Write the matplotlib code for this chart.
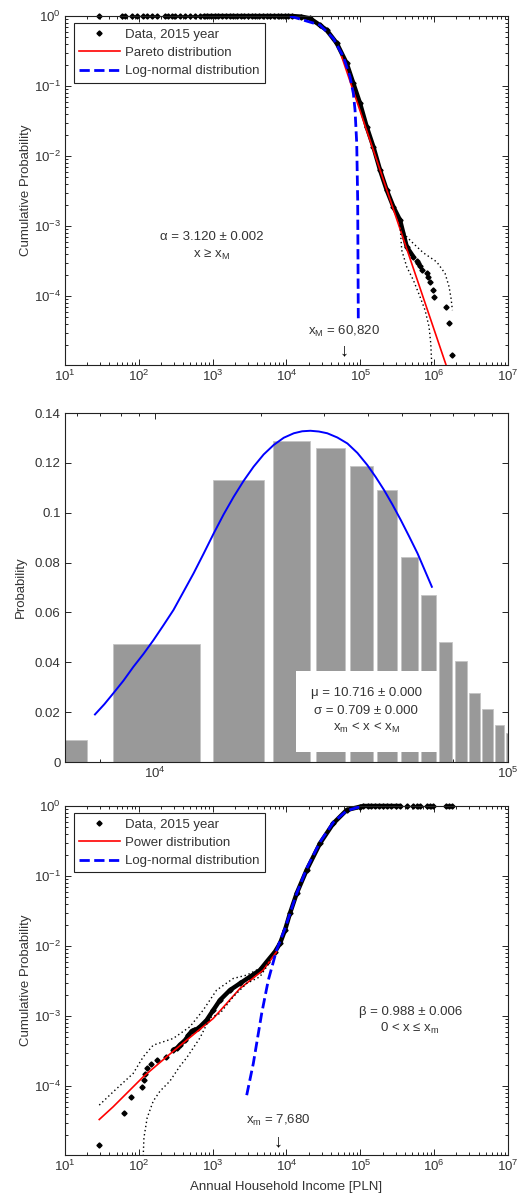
import matplotlib
matplotlib.use("Agg")
import matplotlib.pyplot as plt
import numpy as np
from matplotlib.patches import Rectangle
from matplotlib.ticker import LogLocator, NullFormatter, MultipleLocator, FormatStrFormatter, FixedLocator

plt.rcParams["font.family"] = ["Liberation Sans", "DejaVu Sans"]
plt.rcParams["mathtext.default"] = "regular"
plt.rcParams["font.size"] = 9.5

TXT = "#333333"

# ---------------- top panel: upper tail (1 - CDF) ----------------
top_flat_x = [29, 60, 66, 80, 95, 115, 129, 149, 175, 226, 250, 279, 309, 361, 422,
              493, 577, 674, 760, 850, 960, 1080, 1200, 1350, 1500, 1700, 1900, 2150,
              2400, 2700, 3000, 3400, 3800, 4300, 4800, 5400, 6000, 6800, 7600, 8500,
              9500, 10600, 12000]
top_tail_x = [15800, 20800, 28400, 35000, 47900, 65300, 80400, 99100, 121900, 150000,
              184900, 227500, 279900, 344400, 424600, 522400, 579400, 611000, 642700,
              677500, 792500, 833700, 879000, 975000, 1007000, 1436000, 1574000, 1746000]
top_tail_y = [0.98, 0.927, 0.74, 0.63, 0.41, 0.211, 0.109, 0.0565, 0.0262, 0.0136,
              0.0063, 0.00327, 0.00189, 0.00122, 5.07e-4, 3.65e-4, 3.16e-4, 2.93e-4, 2.69e-4,
              2.40e-4, 2.11e-4, 1.89e-4, 1.60e-4, 1.24e-4, 9.6e-5, 6.9e-5, 4.2e-5, 1.44e-5]

pareto_x = [56000, 1.6e6]
pareto_y = [0.262, 7.6e-6]

top_logn_x = [11150, 28440, 43050, 58900, 72400, 80400, 84700, 89300, 92000, 93800]
top_logn_y = [1.0, 0.743, 0.48, 0.262, 0.136, 0.0785, 0.0454, 0.0152, 0.00235, 4.54e-5]

top_ci_hi_x = [344400, 424600, 522400, 712900, 1081000, 1403000, 1589000, 1690000, 1762000]
top_ci_hi_y = [1.03e-3, 7.03e-4, 5.65e-4, 4.16e-4, 3.09e-4, 2.11e-4, 1.36e-4, 9.27e-5, 6.31e-5]
top_ci_lo_x = [344400, 363100, 424600, 522400, 642700, 751600, 851100, 897500, 924700]
top_ci_lo_y = [1.03e-3, 4.54e-4, 2.62e-4, 1.69e-4, 9.77e-5, 6.31e-5, 3.65e-5, 2.11e-5, 1.09e-5]

x_M = 60820

# ---------------- middle panel: histogram + log-normal fit ----------------
bin_centers = [3500, 10500, 17500, 24500, 31500, 38500, 45500, 52500, 59500, 66500,
               73500, 80500, 87500, 94500, 101500]
bin_probs = [0.0088, 0.0472, 0.1131, 0.1288, 0.1258, 0.1189, 0.1091, 0.0821, 0.0669,
             0.0480, 0.0406, 0.0276, 0.0214, 0.0148, 0.0118]

fit_x = [6754, 7180, 7614, 8128, 8677, 9270, 9890, 10560, 11270, 12030, 12850, 13720,
         14650, 15640, 16690, 17810, 19010, 20300, 21670, 23140, 24710, 26100, 27540,
         29100, 30740, 32830, 35060, 37420, 39940, 42180, 44530, 47020, 49650, 52440,
         55390, 58040, 60820]
fit_y = [0.0191, 0.0232, 0.0276, 0.0326, 0.0382, 0.0434, 0.0489, 0.0549, 0.0610, 0.0683,
         0.0757, 0.0836, 0.0917, 0.0994, 0.1064, 0.1128, 0.1185, 0.1234, 0.1272, 0.1301,
         0.1319, 0.1327, 0.1329, 0.1326, 0.1319, 0.1302, 0.1278, 0.1240, 0.1191, 0.1143,
         0.1091, 0.1033, 0.0971, 0.0905, 0.0837, 0.0770, 0.0703]

# ---------------- bottom panel: lower tail (CDF) ----------------
bot_curve_x = [29.2, 63, 78, 111, 119, 123, 130, 145, 175, 233, 293, 330, 361, 422, 470,
               520, 560, 640, 830, 1021, 1256, 1718, 2344, 3206, 4375, 5395, 6982, 8166,
               9550, 11140, 13740, 18750, 28440, 43050, 65310, 99100]
bot_curve_y = [1.45e-5, 4.07e-5, 6.9e-5, 9.6e-5, 1.23e-4, 1.51e-4, 1.79e-4, 2.04e-4,
               2.35e-4, 2.6e-4, 3.3e-4, 3.5e-4, 3.9e-4, 4.5e-4, 5.3e-4, 6.1e-4, 6.3e-4,
               6.67e-4, 8.77e-4, 1.22e-3, 1.69e-3, 2.35e-3, 2.93e-3, 3.65e-3, 4.54e-3,
               5.97e-3, 8.30e-3, 0.0109, 0.0169, 0.0293, 0.0565, 0.122, 0.293, 0.565,
               0.877, 0.977]
bot_flat_x = [110000, 125000, 140000, 160000, 180000, 205000, 230000, 260000, 300000,
              344000, 424600, 522400, 579400, 642700, 792500, 879000, 975000, 1436000,
              1574000, 1746000]

power_x = [29.2, 45, 115, 238, 445, 1021, 2344, 4853, 7350]
power_y = [3.34e-5, 5.07e-5, 1.36e-4, 2.62e-4, 4.54e-4, 9.27e-4, 2.48e-3, 4.54e-3, 8.3e-3]

bot_logn_x = [2893, 3556, 4613, 5675, 7345, 9550, 13740, 18750, 28440, 43050, 65310, 99100]
bot_logn_y = [7.43e-5, 2.11e-4, 1.09e-3, 3.27e-3, 8.77e-3, 0.0179, 0.0565, 0.128, 0.306,
              0.585, 0.857, 0.977]

bot_ci_hi_x = [29.2, 45.1, 84.1, 115, 157, 293, 493, 746, 1132, 1905, 2891, 4853, 6000]
bot_ci_hi_y = [5.36e-5, 8.3e-5, 1.52e-4, 2.62e-4, 3.85e-4, 4.8e-4, 7.05e-4, 1.22e-3,
               2.35e-3, 3.45e-3, 3.85e-3, 5.07e-3, 6.3e-3]
bot_ci_lo_x = [115, 117.5, 130, 157, 194, 264, 361, 445, 675, 920, 1256, 1905, 2891, 4375, 6000]
bot_ci_lo_y = [1.0e-5, 1.83e-5, 3.53e-5, 6.11e-5, 8.49e-5, 1.18e-4, 1.93e-4, 2.54e-4,
               4.9e-4, 9.46e-4, 1.09e-3, 1.89e-3, 2.93e-3, 3.65e-3, 6.0e-3]

x_m = 7680

log_xticks = [1e1, 1e2, 1e3, 1e4, 1e5, 1e6, 1e7]
log_yticks = [1e-4, 1e-3, 1e-2, 1e-1, 1e0]


def style_axes(ax):
    for s in ax.spines.values():
        s.set_linewidth(0.8)
        s.set_color("#222222")
    ax.tick_params(which="both", direction="in", top=True, right=True,
                   width=0.6, labelcolor=TXT, pad=3)
    ax.tick_params(which="major", length=4)
    ax.tick_params(which="minor", length=2.4)


def style_loglog(ax):
    ax.set_xscale("log")
    ax.set_yscale("log")
    ax.set_xlim(10, 1e7)
    ax.set_ylim(1.04e-5, 1.0)
    ax.xaxis.set_major_locator(FixedLocator(log_xticks))
    ax.yaxis.set_major_locator(FixedLocator(log_yticks))
    for axis in (ax.xaxis, ax.yaxis):
        axis.set_minor_locator(LogLocator(base=10, subs=np.arange(2, 10), numticks=100))
        axis.set_minor_formatter(NullFormatter())
    style_axes(ax)
    ax.set_ylabel("Cumulative Probability", color=TXT)
    ax.yaxis.set_label_coords(-0.075, 0.5)


def draw_data(ax, xs, ys, lo, hi):
    xs = np.asarray(xs, dtype=float)
    ys = np.asarray(ys, dtype=float)
    band = (xs >= lo) & (xs <= hi)
    ax.plot(xs[band], ys[band], color="black", lw=3.2, solid_capstyle="round",
            clip_on=False, zorder=2)
    ax.plot(xs, ys, ls="none", marker="D", ms=2.6, color="black", clip_on=False,
            zorder=2, label="Data, 2015 year")


def add_legend(ax):
    leg = ax.legend(loc="upper left", bbox_to_anchor=(0.02, 0.979), borderaxespad=0,
                    fancybox=False, edgecolor="#222222", framealpha=1,
                    handlelength=3.1, handletextpad=0.4, labelspacing=0.45,
                    borderpad=0.4, numpoints=1, labelcolor=TXT)
    leg.get_frame().set_linewidth(0.8)


fig = plt.figure(figsize=(5.19, 11.98), dpi=100)
ax1 = fig.add_axes([0.125, 0.6953, 0.854, 0.2913])
ax2 = fig.add_axes([0.125, 0.3639, 0.854, 0.2913])
ax3 = fig.add_axes([0.125, 0.0359, 0.854, 0.2913])

# ---- top ----
style_loglog(ax1)
top_x = list(top_flat_x) + list(top_tail_x)
top_y = [1.0] * len(top_flat_x) + list(top_tail_y)
draw_data(ax1, top_x, top_y, 700, 5.3e5)
ax1.plot(pareto_x, pareto_y, color="red", lw=1.2, zorder=3, label="Pareto distribution")
ax1.plot(top_logn_x, top_logn_y, color="#0000ff", lw=2, ls="--", zorder=3,
         label="Log-normal distribution")
ax1.plot(top_ci_hi_x, top_ci_hi_y, color="black", lw=1, ls=(0, (1, 2)), zorder=3)
ax1.plot(top_ci_lo_x, top_ci_lo_y, color="black", lw=1, ls=(0, (1, 2)), zorder=3)
add_legend(ax1)
ax1.text(0.331, 0.366, "α = 3.120 ± 0.002", transform=ax1.transAxes, ha="center",
         va="center", color=TXT)
ax1.text(0.331, 0.315, "x ≥ x$_M$", transform=ax1.transAxes, ha="center",
         va="center", color=TXT)
ax1.text(x_M, 0.097, "x$_M$ = 60,820", transform=ax1.get_xaxis_transform(),
         ha="center", va="center", color=TXT)
ax1.text(x_M, 0.04, "↓", transform=ax1.get_xaxis_transform(), ha="center",
         va="center", color="black", fontsize=13)

# ---- middle ----
ax2.set_xscale("log")
ax2.bar(bin_centers, bin_probs, width=5800, color="#999999", edgecolor="#c4c4c4",
        linewidth=0.6, zorder=1)
ax2.plot(fit_x, fit_y, color="#0000ff", lw=1.4, zorder=2)
ax2.set_xlim(5550, 1.0e5)
ax2.set_ylim(0, 0.14)
ax2.xaxis.set_major_locator(FixedLocator([1e4, 1e5]))
ax2.xaxis.set_minor_locator(LogLocator(base=10, subs=np.arange(2, 10), numticks=100))
ax2.xaxis.set_minor_formatter(NullFormatter())
ax2.yaxis.set_major_locator(MultipleLocator(0.02))
ax2.yaxis.set_major_formatter(FormatStrFormatter("%g"))
style_axes(ax2)
ax2.set_axisbelow(True)
ax2.set_ylabel("Probability", color=TXT)
ax2.yaxis.set_label_coords(-0.085, 0.5)
ax2.add_patch(Rectangle((0.521, 0.029), 0.319, 0.232, transform=ax2.transAxes,
                        facecolor="white", edgecolor="none", zorder=3))
ax2.text(0.680, 0.198, "μ = 10.716 ± 0.000", transform=ax2.transAxes, ha="center",
         va="center", color=TXT, zorder=4)
ax2.text(0.680, 0.146, "σ = 0.709 ± 0.000", transform=ax2.transAxes, ha="center",
         va="center", color=TXT, zorder=4)
ax2.text(0.680, 0.097, "x$_m$ < x < x$_M$", transform=ax2.transAxes, ha="center",
         va="center", color=TXT, zorder=4)

# ---- bottom ----
style_loglog(ax3)
bot_x = list(bot_curve_x) + list(bot_flat_x)
bot_y = list(bot_curve_y) + [1.0] * len(bot_flat_x)
draw_data(ax3, bot_x, bot_y, 280, 3.5e5)
ax3.plot(power_x, power_y, color="red", lw=1.2, zorder=3, label="Power distribution")
ax3.plot(bot_logn_x, bot_logn_y, color="#0000ff", lw=2, ls="--", zorder=3,
         label="Log-normal distribution")
ax3.plot(bot_ci_hi_x, bot_ci_hi_y, color="black", lw=1, ls=(0, (1, 2)), zorder=3)
ax3.plot(bot_ci_lo_x, bot_ci_lo_y, color="black", lw=1, ls=(0, (1, 2)), zorder=3)
add_legend(ax3)
ax3.text(0.779, 0.409, "β = 0.988 ± 0.006", transform=ax3.transAxes, ha="center",
         va="center", color=TXT)
ax3.text(0.779, 0.363, "0 < x ≤ x$_m$", transform=ax3.transAxes, ha="center",
         va="center", color=TXT)
ax3.text(x_m, 0.098, "x$_m$ = 7,680", transform=ax3.get_xaxis_transform(),
         ha="center", va="center", color=TXT)
ax3.text(x_m, 0.037, "↓", transform=ax3.get_xaxis_transform(), ha="center",
         va="center", color="black", fontsize=13)
ax3.set_xlabel("Annual Household Income [PLN]", color=TXT, labelpad=5)

fig.savefig("out.png", dpi=100)
